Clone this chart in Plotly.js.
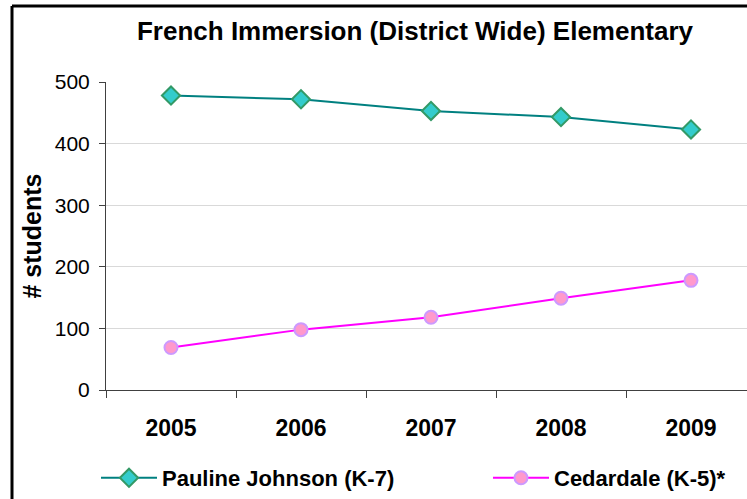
<!DOCTYPE html>
<html><head><meta charset="utf-8">
<script src="https://cdn.plot.ly/plotly-3.0.1.min.js"></script>
<style>html,body{margin:0;padding:0;background:#fff;}#chart{width:747px;height:499px;}</style>
</head><body><div id="chart"></div>
<script>
const years = ["2005", "2006", "2007", "2008", "2009"];
const pauline = [478, 472, 453, 443, 423];
const cedardale = [69, 98, 118, 149, 178];
const seriesNames = ["Pauline Johnson (K-7)", "Cedardale (K-5)*"];
const yTicks = [0, 100, 200, 300, 400, 500];

const W = 747, H = 499;
const mL = 106, mR = 0, mT = 82, mB = 109;
const pw = W - mL - mR, ph = H - mT - mB;
const catW = 130;
const FONT = "'Liberation Sans', Arial, sans-serif";

const traces = [
  {x: years, y: pauline, name: '<b>' + seriesNames[0] + '</b>', type: 'scatter', mode: 'lines+markers',
   legend: 'legend',
   line: {color: '#008080', width: 2},
   marker: {symbol: 'diamond', size: 14, color: '#33CCCC', line: {color: '#339966', width: 2}}},
  {x: years, y: cedardale, name: '<b>' + seriesNames[1] + '</b>', type: 'scatter', mode: 'lines+markers',
   legend: 'legend2',
   line: {color: '#FF00FF', width: 2},
   marker: {symbol: 'circle', size: 13, color: '#FF99CC', line: {color: '#CC99FF', width: 2}}}
];

const legendBase = {orientation: 'h', xref: 'container', yref: 'container', y: 1 - 478 / H,
  xanchor: 'left', yanchor: 'middle', font: {size: 22, color: '#000', family: FONT},
  itemwidth: 56, bgcolor: 'rgba(0,0,0,0)'};

const layout = {
  width: W, height: H,
  margin: {l: mL, r: mR, t: mT, b: mB, pad: 0},
  paper_bgcolor: '#fff', plot_bgcolor: '#fff',
  font: {family: FONT, color: '#000'},
  title: {text: '<b>French Immersion (District Wide) Elementary</b>', font: {size: 26, color: '#000', family: FONT},
          xref: 'container', x: 415 / W, xanchor: 'center', yref: 'container', y: 1 - 31 / H, yanchor: 'middle'},
  xaxis: {type: 'category', range: [-0.5, -0.5 + pw / catW], tickson: 'boundaries',
          ticks: 'outside', ticklen: 7, tickcolor: '#404040', showline: true, linecolor: '#404040', linewidth: 1,
          showgrid: false, tickfont: {size: 23, color: '#000', family: FONT, weight: 'bold'},
          ticklabelstandoff: 17, fixedrange: true},
  yaxis: {range: [0, 500], tickvals: yTicks, ticks: 'outside', ticklen: 6, tickcolor: '#404040',
          showline: true, linecolor: '#404040', linewidth: 1, gridcolor: '#d9d9d9', gridwidth: 1,
          zeroline: false, tickfont: {size: 21, color: '#000', family: FONT}, ticklabelstandoff: 5,
          title: {text: '<b># students</b>', font: {size: 25, color: '#000', family: FONT}, standoff: 6}, fixedrange: true},
  legend: Object.assign({}, legendBase, {x: 96 / W}),
  legend2: Object.assign({}, legendBase, {x: 488 / W}),
  showlegend: true,
  shapes: [
    {type: 'line', xref: 'paper', yref: 'paper', x0: (12 - mL) / pw, x1: (12 - mL) / pw,
     y0: -(H - mT - ph) / ph - 0.1, y1: 1 + (mT - 6) / ph, line: {color: '#000', width: 3}},
    {type: 'line', xref: 'paper', yref: 'paper', x0: (12 - mL) / pw, x1: 1.1,
     y0: 1 + (mT - 6) / ph, y1: 1 + (mT - 6) / ph, line: {color: '#000', width: 3}}
  ]
};
Plotly.newPlot('chart', traces, layout, {displayModeBar: false, staticPlot: true});
</script></body></html>
